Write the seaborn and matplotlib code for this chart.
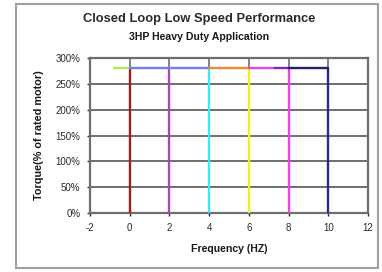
import matplotlib
matplotlib.use("Agg")
import matplotlib.pyplot as plt
import matplotlib.patches as mpatches
import seaborn as sns
import pandas as pd

sns.set_theme(style="white")
plt.rcParams['font.family'] = ['Liberation Sans', 'DejaVu Sans']

# Data
freqs = [0, 2, 4, 6, 8, 10]
torque_max = 280
vert_colors = ["#a01c1c", "#a848b8", "#40e8f0", "#f0f020", "#f040f0", "#282890"]
top_starts = [-0.8, 0, 4, 6, 7.3, 8]
top_ends = [0, 4, 6, 7.3, 8, 10]
top_colors = ["#a8f048", "#6c80e8", "#f08838", "#e048e0", "#8028a8", "#202068"]
x_ticks = [-2, 0, 2, 4, 6, 8, 10, 12]
y_ticks = [0, 50, 100, 150, 200, 250, 300]

fig = plt.figure(figsize=(3.82, 2.72), dpi=100)
ax = fig.add_axes([90/382, 1-213/272, (368-90)/382, (213-58)/272])

# gridlines
for yt in y_ticks:
    ax.axhline(yt, color="#6e6e6e", lw=1.4, zorder=1)
for xt in x_ticks:
    ax.axvline(xt, color="#7a7a7a", lw=1.3, zorder=1)

rows = []
for i, f in enumerate(freqs):
    for y in (0, torque_max):
        rows.append({"series": f"v{i}", "x": f, "y": y})
for i, (s, e) in enumerate(zip(top_starts, top_ends)):
    for x in (s, e):
        rows.append({"series": f"h{i}", "x": x, "y": torque_max})
df = pd.DataFrame(rows)

palette = {f"v{i}": c for i, c in enumerate(vert_colors)}
palette.update({f"h{i}": c for i, c in enumerate(top_colors)})

sns.lineplot(data=df, x="x", y="y", hue="series", palette=palette, units="series",
             estimator=None, sort=False, lw=1.7, legend=False, ax=ax, zorder=3)

ax.set_xlim(-2, 12)
ax.set_ylim(0, 300)
ax.set_xticks(x_ticks)
ax.set_xticklabels([str(v) for v in x_ticks])
ax.set_yticks(y_ticks)
ax.set_yticklabels([f"{v}%" for v in y_ticks])
ax.tick_params(axis="both", labelsize=7, colors="#2a2a2a", length=2, width=1, pad=5,
               bottom=True, left=True)
ax.tick_params(axis="x", pad=5)
for sp in ax.spines.values():
    sp.set_color("#6e6e6e")
    sp.set_linewidth(1.6)

ax.set_xlabel("Frequency (HZ)", fontsize=7.6, fontweight="bold", labelpad=8, color="#1a1a1a")
ax.set_ylabel("Torque(% of rated motor)", fontsize=7.8, fontweight="bold", labelpad=8, color="#1a1a1a")

fig.text(199/382, 1-19/272, "Closed Loop Low Speed Performance", ha="center", va="center",
         fontsize=9.3, fontweight="bold", color="#2a2a2a")
fig.text(199/382, 1-36.5/272, "3HP Heavy Duty Application", ha="center", va="center",
         fontsize=7.6, fontweight="bold", color="#1a1a1a")

frame = mpatches.Rectangle((16/382, 1-268/272), (378-16)/382, (268-4)/272,
                           transform=fig.transFigure, fill=False, ec="#a0a0a0", lw=1.5)
fig.patches.append(frame)

fig.savefig("out.png", dpi=100)
